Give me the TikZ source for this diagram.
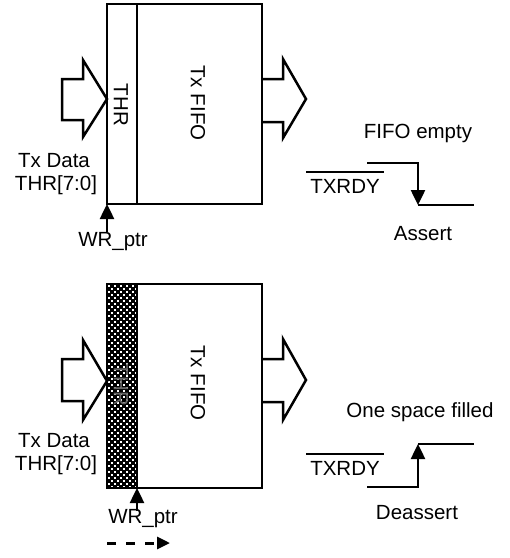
\documentclass[tikz,border=0pt]{standalone}
\usepackage{fontspec}
\setmainfont{Liberation Sans}
\usetikzlibrary{arrows.meta}
\tikzset{
  lbl/.style={font=\fontsize{20.5}{24}\selectfont, inner sep=0pt},
  box/.style={draw, line width=2.5pt, inner sep=0pt, outer sep=0pt},
  sig/.style={line width=2.5pt},
  tipa/.style={-{Triangle[length=15pt,width=14pt]}},
  bar/.style={line width=1.8pt},
}
\begin{document}
\begin{tikzpicture}[x=1pt,y=-1pt,line width=2.5pt, line join=miter]
\useasboundingbox (0,0) rectangle (510,558);
% ---------- top block ----------
\node[box, minimum width=155pt, minimum height=200pt] (fifo1) at (184.5,104) {};
\coordinate (d1t) at (137,4); \coordinate (d1b) at (137,204);
\draw (d1t) -- (d1b);
\node[lbl, rotate=-90] (thr1) at (121,105) {THR};
\node[lbl, rotate=-90] (tf1) at (198,103) {Tx FIFO};
\draw (62,79) -- (83,79) -- (83,60) -- (107,99) -- (83,137) -- (83,120) -- (62,120) -- cycle;
\draw (262,79) -- (283,79) -- (283,59) -- (306,99) -- (283,138) -- (283,122) -- (262,122);
\node[lbl] (td1) at (54,161) {Tx Data};
\node[lbl] (tr1) at (56,185) {THR[7:0]};
\node[lbl] (wr1) at (113,242) {WR\_ptr};
\coordinate (wr1s) at (107,232);
\draw[sig,tipa] (wr1s) -- (fifo1.south west);
\node[lbl] (fe) at (418,133) {FIFO empty};
\node[lbl] (tx1) at (345,186) {TXRDY};
\draw[bar] ([xshift=-3pt,yshift=6pt]tx1.north west) -- ([xshift=3pt,yshift=6pt]tx1.north east);
\coordinate (s1a) at (367,163); \coordinate (s1b) at (418,163);
\coordinate (s1c) at (418,205); \coordinate (s1d) at (474,205);
\draw[sig,tipa] (s1a) -- (s1b) -- (s1c);
\draw[sig] (s1c) -- (s1d);
\node[lbl] (as) at (423,234) {Assert};
% ---------- bottom block ----------
\fill[black] (107,284) rectangle (137,488);
\foreach \i in {0,...,9}{
  \foreach \j in {0,...,67}{
    \pgfmathtruncatemacro{\pty}{mod(\i+\j,2)}
    \ifnum\pty=0
      \fill[white] (107.6+3*\i,284.6+3*\j) rectangle ++(2.1,2.1);
    \fi
  }
}
\node[box, minimum width=155pt, minimum height=204pt] (fifo2) at (184.5,386) {};
\coordinate (d2t) at (137,284); \coordinate (d2b) at (137,488);
\draw (d2t) -- (d2b);
\node[lbl, rotate=-90, text=black!60] (thr2) at (121,385) {THR};
\node[lbl, rotate=-90] (tf2) at (198,383) {Tx FIFO};
\draw (62,359) -- (83,359) -- (83,340) -- (107,381) -- (83,420) -- (83,401) -- (62,401) -- cycle;
\draw (262,359) -- (283,359) -- (283,339) -- (306,380) -- (283,420) -- (283,402) -- (262,402);
\node[lbl] (td2) at (54,441) {Tx Data};
\node[lbl] (tr2) at (56,465) {THR[7:0]};
\node[lbl] (wr2) at (143,519) {WR\_ptr};
\coordinate (wr2s) at (137,511);
\draw[sig,tipa] (wr2s) -- (d2b);
\coordinate (da) at (107,543); \coordinate (db) at (170,543);
\draw[line width=3pt,dash pattern=on 9pt off 10pt,-{Triangle[length=13pt,width=12pt]}] (da) -- (db);
\node[lbl] (os) at (420,412) {One space filled};
\node[lbl] (tx2) at (345,468) {TXRDY};
\draw[bar] ([xshift=-3pt,yshift=6pt]tx2.north west) -- ([xshift=3pt,yshift=6pt]tx2.north east);
\coordinate (s2a) at (367,487); \coordinate (s2b) at (418,487);
\coordinate (s2c) at (418,444); \coordinate (s2d) at (474,444);
\draw[sig,tipa] (s2a) -- (s2b) -- (s2c);
\draw[sig] (s2c) -- (s2d);
\node[lbl] (de) at (417,513) {Deassert};
\end{tikzpicture}
\end{document}
